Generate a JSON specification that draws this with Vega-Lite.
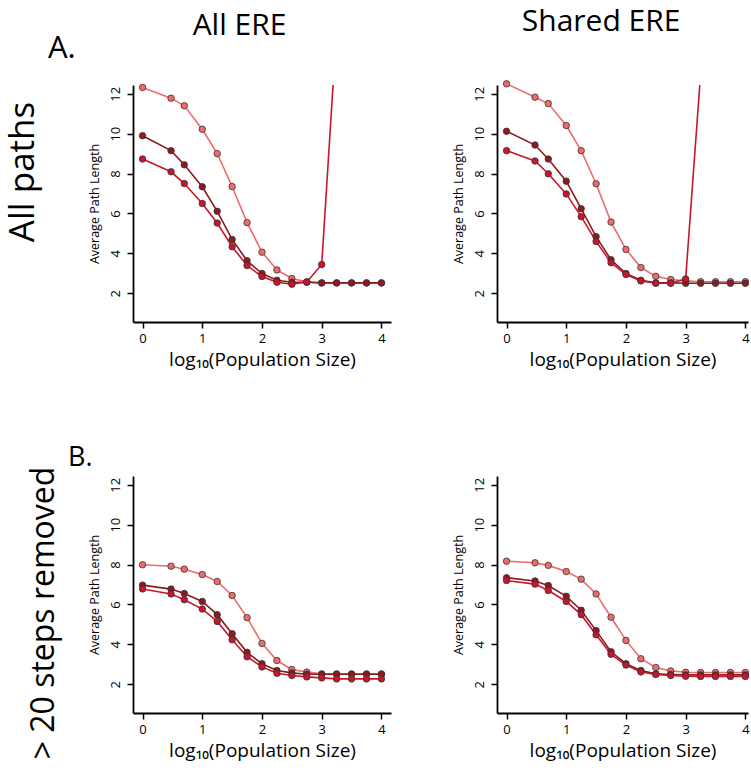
{
  "$schema": "https://vega.github.io/schema/vega-lite/v6.json",
  "padding": {"left": 6, "top": 6, "right": 0, "bottom": 0},
  "background": "white",
  "config": {
    "view": {"stroke": null},
    "font": "Open Sans",
    "axis": {"grid": false, "domainColor": "#000", "domainWidth": 1.8, "tickColor": "#000", "tickWidth": 1.5, "tickSize": 6, "labelFont": "Open Sans", "labelFontSize": 13, "labelColor": "#000", "titleFont": "Open Sans", "titleFontWeight": "normal", "titleColor": "#000", "labelFlush": false, "labelOverlap": false},
    "title": {"font": "Open Sans", "fontWeight": "normal", "color": "#000"}
  },
  "datasets": {
    "d": [
      {"p":"TL","s":"light","x":0,"y":12.32},{"p":"TL","s":"light","x":0.477,"y":11.78},{"p":"TL","s":"light","x":0.699,"y":11.40},{"p":"TL","s":"light","x":1,"y":10.22},{"p":"TL","s":"light","x":1.25,"y":9.0},{"p":"TL","s":"light","x":1.5,"y":7.35},{"p":"TL","s":"light","x":1.75,"y":5.54},{"p":"TL","s":"light","x":2,"y":4.06},{"p":"TL","s":"light","x":2.25,"y":3.17},{"p":"TL","s":"light","x":2.5,"y":2.74},{"p":"TL","s":"light","x":2.75,"y":2.57},{"p":"TL","s":"light","x":3,"y":2.52},{"p":"TL","s":"light","x":3.25,"y":2.52},{"p":"TL","s":"light","x":3.5,"y":2.52},{"p":"TL","s":"light","x":3.75,"y":2.52},{"p":"TL","s":"light","x":4,"y":2.52},
      {"p":"TL","s":"dark","x":0,"y":9.90},{"p":"TL","s":"dark","x":0.477,"y":9.15},{"p":"TL","s":"dark","x":0.699,"y":8.44},{"p":"TL","s":"dark","x":1,"y":7.34},{"p":"TL","s":"dark","x":1.25,"y":6.11},{"p":"TL","s":"dark","x":1.5,"y":4.70},{"p":"TL","s":"dark","x":1.75,"y":3.63},{"p":"TL","s":"dark","x":2,"y":2.99},{"p":"TL","s":"dark","x":2.25,"y":2.65},{"p":"TL","s":"dark","x":2.5,"y":2.55},{"p":"TL","s":"dark","x":2.75,"y":2.55},{"p":"TL","s":"dark","x":3,"y":2.52},{"p":"TL","s":"dark","x":3.25,"y":2.52},{"p":"TL","s":"dark","x":3.5,"y":2.52},{"p":"TL","s":"dark","x":3.75,"y":2.52},{"p":"TL","s":"dark","x":4,"y":2.52},
      {"p":"TL","s":"medium","x":0,"y":8.73},{"p":"TL","s":"medium","x":0.477,"y":8.09},{"p":"TL","s":"medium","x":0.699,"y":7.50},{"p":"TL","s":"medium","x":1,"y":6.50},{"p":"TL","s":"medium","x":1.25,"y":5.52},{"p":"TL","s":"medium","x":1.5,"y":4.33},{"p":"TL","s":"medium","x":1.75,"y":3.39},{"p":"TL","s":"medium","x":2,"y":2.84},{"p":"TL","s":"medium","x":2.25,"y":2.55},{"p":"TL","s":"medium","x":2.5,"y":2.45},{"p":"TL","s":"medium","x":2.75,"y":2.57},{"p":"TL","s":"medium","x":3,"y":3.44},{"p":"TL","s":"medium","x":3.25,"y":15.3},
      {"p":"TR","s":"light","x":0,"y":12.50},{"p":"TR","s":"light","x":0.477,"y":11.83},{"p":"TR","s":"light","x":0.699,"y":11.51},{"p":"TR","s":"light","x":1,"y":10.41},{"p":"TR","s":"light","x":1.25,"y":9.15},{"p":"TR","s":"light","x":1.5,"y":7.49},{"p":"TR","s":"light","x":1.75,"y":5.57},{"p":"TR","s":"light","x":2,"y":4.20},{"p":"TR","s":"light","x":2.25,"y":3.29},{"p":"TR","s":"light","x":2.5,"y":2.85},{"p":"TR","s":"light","x":2.75,"y":2.69},{"p":"TR","s":"light","x":3,"y":2.62},{"p":"TR","s":"light","x":3.25,"y":2.58},{"p":"TR","s":"light","x":3.5,"y":2.58},{"p":"TR","s":"light","x":3.75,"y":2.58},{"p":"TR","s":"light","x":4,"y":2.58},
      {"p":"TR","s":"dark","x":0,"y":10.12},{"p":"TR","s":"dark","x":0.477,"y":9.43},{"p":"TR","s":"dark","x":0.699,"y":8.73},{"p":"TR","s":"dark","x":1,"y":7.62},{"p":"TR","s":"dark","x":1.25,"y":6.24},{"p":"TR","s":"dark","x":1.5,"y":4.84},{"p":"TR","s":"dark","x":1.75,"y":3.68},{"p":"TR","s":"dark","x":2,"y":2.99},{"p":"TR","s":"dark","x":2.25,"y":2.65},{"p":"TR","s":"dark","x":2.5,"y":2.52},{"p":"TR","s":"dark","x":2.75,"y":2.52},{"p":"TR","s":"dark","x":3,"y":2.50},{"p":"TR","s":"dark","x":3.25,"y":2.50},{"p":"TR","s":"dark","x":3.5,"y":2.50},{"p":"TR","s":"dark","x":3.75,"y":2.50},{"p":"TR","s":"dark","x":4,"y":2.50},
      {"p":"TR","s":"medium","x":0,"y":9.15},{"p":"TR","s":"medium","x":0.477,"y":8.63},{"p":"TR","s":"medium","x":0.699,"y":7.99},{"p":"TR","s":"medium","x":1,"y":6.98},{"p":"TR","s":"medium","x":1.25,"y":5.84},{"p":"TR","s":"medium","x":1.5,"y":4.60},{"p":"TR","s":"medium","x":1.75,"y":3.53},{"p":"TR","s":"medium","x":2,"y":2.94},{"p":"TR","s":"medium","x":2.25,"y":2.62},{"p":"TR","s":"medium","x":2.5,"y":2.50},{"p":"TR","s":"medium","x":2.75,"y":2.50},{"p":"TR","s":"medium","x":3,"y":2.72},{"p":"TR","s":"medium","x":3.25,"y":13.0},
      {"p":"BL","s":"light","x":0,"y":7.99},{"p":"BL","s":"light","x":0.477,"y":7.92},{"p":"BL","s":"light","x":0.699,"y":7.77},{"p":"BL","s":"light","x":1,"y":7.50},{"p":"BL","s":"light","x":1.25,"y":7.15},{"p":"BL","s":"light","x":1.5,"y":6.45},{"p":"BL","s":"light","x":1.75,"y":5.34},{"p":"BL","s":"light","x":2,"y":4.05},{"p":"BL","s":"light","x":2.25,"y":3.19},{"p":"BL","s":"light","x":2.5,"y":2.74},{"p":"BL","s":"light","x":2.75,"y":2.61},{"p":"BL","s":"light","x":3,"y":2.52},{"p":"BL","s":"light","x":3.25,"y":2.52},{"p":"BL","s":"light","x":3.5,"y":2.52},{"p":"BL","s":"light","x":3.75,"y":2.52},{"p":"BL","s":"light","x":4,"y":2.52},
      {"p":"BL","s":"dark","x":0,"y":6.97},{"p":"BL","s":"dark","x":0.477,"y":6.77},{"p":"BL","s":"dark","x":0.699,"y":6.55},{"p":"BL","s":"dark","x":1,"y":6.15},{"p":"BL","s":"dark","x":1.25,"y":5.49},{"p":"BL","s":"dark","x":1.5,"y":4.53},{"p":"BL","s":"dark","x":1.75,"y":3.60},{"p":"BL","s":"dark","x":2,"y":3.03},{"p":"BL","s":"dark","x":2.25,"y":2.69},{"p":"BL","s":"dark","x":2.5,"y":2.57},{"p":"BL","s":"dark","x":2.75,"y":2.50},{"p":"BL","s":"dark","x":3,"y":2.50},{"p":"BL","s":"dark","x":3.25,"y":2.50},{"p":"BL","s":"dark","x":3.5,"y":2.50},{"p":"BL","s":"dark","x":3.75,"y":2.50},{"p":"BL","s":"dark","x":4,"y":2.50},
      {"p":"BL","s":"medium","x":0,"y":6.78},{"p":"BL","s":"medium","x":0.477,"y":6.53},{"p":"BL","s":"medium","x":0.699,"y":6.24},{"p":"BL","s":"medium","x":1,"y":5.77},{"p":"BL","s":"medium","x":1.25,"y":5.15},{"p":"BL","s":"medium","x":1.5,"y":4.23},{"p":"BL","s":"medium","x":1.75,"y":3.38},{"p":"BL","s":"medium","x":2,"y":2.87},{"p":"BL","s":"medium","x":2.25,"y":2.55},{"p":"BL","s":"medium","x":2.5,"y":2.44},{"p":"BL","s":"medium","x":2.75,"y":2.37},{"p":"BL","s":"medium","x":3,"y":2.32},{"p":"BL","s":"medium","x":3.25,"y":2.27},{"p":"BL","s":"medium","x":3.5,"y":2.27},{"p":"BL","s":"medium","x":3.75,"y":2.27},{"p":"BL","s":"medium","x":4,"y":2.27},
      {"p":"BR","s":"light","x":0,"y":8.17},{"p":"BR","s":"light","x":0.477,"y":8.09},{"p":"BR","s":"light","x":0.699,"y":7.96},{"p":"BR","s":"light","x":1,"y":7.65},{"p":"BR","s":"light","x":1.25,"y":7.27},{"p":"BR","s":"light","x":1.5,"y":6.53},{"p":"BR","s":"light","x":1.75,"y":5.36},{"p":"BR","s":"light","x":2,"y":4.20},{"p":"BR","s":"light","x":2.25,"y":3.28},{"p":"BR","s":"light","x":2.5,"y":2.84},{"p":"BR","s":"light","x":2.75,"y":2.67},{"p":"BR","s":"light","x":3,"y":2.60},{"p":"BR","s":"light","x":3.25,"y":2.59},{"p":"BR","s":"light","x":3.5,"y":2.59},{"p":"BR","s":"light","x":3.75,"y":2.59},{"p":"BR","s":"light","x":4,"y":2.59},
      {"p":"BR","s":"dark","x":0,"y":7.34},{"p":"BR","s":"dark","x":0.477,"y":7.18},{"p":"BR","s":"dark","x":0.699,"y":6.95},{"p":"BR","s":"dark","x":1,"y":6.41},{"p":"BR","s":"dark","x":1.25,"y":5.71},{"p":"BR","s":"dark","x":1.5,"y":4.69},{"p":"BR","s":"dark","x":1.75,"y":3.63},{"p":"BR","s":"dark","x":2,"y":3.03},{"p":"BR","s":"dark","x":2.25,"y":2.69},{"p":"BR","s":"dark","x":2.5,"y":2.52},{"p":"BR","s":"dark","x":2.75,"y":2.49},{"p":"BR","s":"dark","x":3,"y":2.47},{"p":"BR","s":"dark","x":3.25,"y":2.47},{"p":"BR","s":"dark","x":3.5,"y":2.47},{"p":"BR","s":"dark","x":3.75,"y":2.47},{"p":"BR","s":"dark","x":4,"y":2.47},
      {"p":"BR","s":"medium","x":0,"y":7.20},{"p":"BR","s":"medium","x":0.477,"y":7.02},{"p":"BR","s":"medium","x":0.699,"y":6.70},{"p":"BR","s":"medium","x":1,"y":6.15},{"p":"BR","s":"medium","x":1.25,"y":5.49},{"p":"BR","s":"medium","x":1.5,"y":4.48},{"p":"BR","s":"medium","x":1.75,"y":3.50},{"p":"BR","s":"medium","x":2,"y":2.96},{"p":"BR","s":"medium","x":2.25,"y":2.62},{"p":"BR","s":"medium","x":2.5,"y":2.49},{"p":"BR","s":"medium","x":2.75,"y":2.44},{"p":"BR","s":"medium","x":3,"y":2.40},{"p":"BR","s":"medium","x":3.25,"y":2.39},{"p":"BR","s":"medium","x":3.5,"y":2.39},{"p":"BR","s":"medium","x":3.75,"y":2.39},{"p":"BR","s":"medium","x":4,"y":2.39}
    ]
  },
  "data": {"name": "d"},
  "spacing": 75,
  "vconcat": [
    {
      "title": {"text": "All paths", "orient": "left", "anchor": "middle", "fontSize": 35, "offset": 7, "dx": 16},
      "vconcat": [
        {
          "title": {"text": "A.", "anchor": "start", "fontSize": 31, "dx": -40, "dy": 62},
          "spacing": 61,
          "hconcat": [
            {
              "title": {"text": "All ERE", "fontSize": 30, "offset": 42, "frame": "bounds"},
              "width": 258, "height": 237,
              "transform": [{"filter": "datum.p === 'TL'"}],
              "encoding": {
                "x": {"field": "x", "type": "quantitative", "scale": {"domain": [-0.16, 4.16], "nice": false, "zero": false}, "axis": {"values": [0, 1, 2, 3, 4], "title": "log₁₀(Population Size)", "titleFontSize": 19, "titlePadding": 5, "labelPadding": 4}},
                "y": {"field": "y", "type": "quantitative", "scale": {"domain": [0.56, 12.44], "nice": false, "zero": false}, "axis": {"values": [2, 4, 6, 8, 10, 12], "labelAngle": 270, "labelAlign": "center", "labelBaseline": "bottom", "labelPadding": 5, "title": "Average Path Length", "titleFontSize": 12.5, "titlePadding": 8}},
                "color": {"field": "s", "type": "nominal", "scale": {"domain": ["light", "dark", "medium"], "range": ["#EE6B6B", "#8C1A1E", "#C8162E"]}, "legend": null}
              },
              "layer": [
                {"mark": {"type": "line", "clip": true, "strokeWidth": 1.6}},
                {"transform": [{"filter": "datum.y < 12.8"}], "mark": {"type": "point", "filled": true, "size": 42, "stroke": "#333", "strokeWidth": 0.8, "opacity": 1}}
              ]
            },
            {
              "title": {"text": "Shared ERE", "fontSize": 30, "offset": 42, "frame": "bounds"},
              "width": 251, "height": 237,
              "transform": [{"filter": "datum.p === 'TR'"}],
              "encoding": {
                "x": {"field": "x", "type": "quantitative", "scale": {"domain": [-0.16, 4.044], "nice": false, "zero": false}, "axis": {"values": [0, 1, 2, 3, 4], "title": "log₁₀(Population Size)", "titleFontSize": 19, "titlePadding": 5, "labelPadding": 4}},
                "y": {"field": "y", "type": "quantitative", "scale": {"domain": [0.56, 12.44], "nice": false, "zero": false}, "axis": {"values": [2, 4, 6, 8, 10, 12], "labelAngle": 270, "labelAlign": "center", "labelBaseline": "bottom", "labelPadding": 5, "title": "Average Path Length", "titleFontSize": 12.5, "titlePadding": 8}},
                "color": {"field": "s", "type": "nominal", "scale": {"domain": ["light", "dark", "medium"], "range": ["#EE6B6B", "#8C1A1E", "#C8162E"]}, "legend": null}
              },
              "layer": [
                {"mark": {"type": "line", "clip": true, "strokeWidth": 1.6}},
                {"transform": [{"filter": "datum.y < 12.8"}], "mark": {"type": "point", "filled": true, "size": 42, "stroke": "#333", "strokeWidth": 0.8, "opacity": 1}}
              ]
            }
          ]
        }
      ]
    },
    {
      "title": {"text": ">  20 steps removed", "orient": "left", "anchor": "middle", "fontSize": 32, "offset": 7, "dx": -11},
      "vconcat": [
        {
          "title": {"text": "B.", "anchor": "start", "fontSize": 27, "dx": -20, "dy": 0},
          "spacing": 61,
          "hconcat": [
            {
              "width": 258, "height": 237,
              "transform": [{"filter": "datum.p === 'BL'"}],
              "encoding": {
                "x": {"field": "x", "type": "quantitative", "scale": {"domain": [-0.16, 4.16], "nice": false, "zero": false}, "axis": {"values": [0, 1, 2, 3, 4], "title": "log₁₀(Population Size)", "titleFontSize": 19, "titlePadding": 5, "labelPadding": 4}},
                "y": {"field": "y", "type": "quantitative", "scale": {"domain": [0.56, 12.44], "nice": false, "zero": false}, "axis": {"values": [2, 4, 6, 8, 10, 12], "labelAngle": 270, "labelAlign": "center", "labelBaseline": "bottom", "labelPadding": 5, "title": "Average Path Length", "titleFontSize": 12.5, "titlePadding": 8}},
                "color": {"field": "s", "type": "nominal", "scale": {"domain": ["light", "dark", "medium"], "range": ["#EE6B6B", "#8C1A1E", "#C8162E"]}, "legend": null}
              },
              "layer": [
                {"mark": {"type": "line", "clip": true, "strokeWidth": 1.6}},
                {"transform": [{"filter": "datum.y < 12.8"}], "mark": {"type": "point", "filled": true, "size": 42, "stroke": "#333", "strokeWidth": 0.8, "opacity": 1}}
              ]
            },
            {
              "width": 251, "height": 237,
              "transform": [{"filter": "datum.p === 'BR'"}],
              "encoding": {
                "x": {"field": "x", "type": "quantitative", "scale": {"domain": [-0.16, 4.044], "nice": false, "zero": false}, "axis": {"values": [0, 1, 2, 3, 4], "title": "log₁₀(Population Size)", "titleFontSize": 19, "titlePadding": 5, "labelPadding": 4}},
                "y": {"field": "y", "type": "quantitative", "scale": {"domain": [0.56, 12.44], "nice": false, "zero": false}, "axis": {"values": [2, 4, 6, 8, 10, 12], "labelAngle": 270, "labelAlign": "center", "labelBaseline": "bottom", "labelPadding": 5, "title": "Average Path Length", "titleFontSize": 12.5, "titlePadding": 8}},
                "color": {"field": "s", "type": "nominal", "scale": {"domain": ["light", "dark", "medium"], "range": ["#EE6B6B", "#8C1A1E", "#C8162E"]}, "legend": null}
              },
              "layer": [
                {"mark": {"type": "line", "clip": true, "strokeWidth": 1.6}},
                {"transform": [{"filter": "datum.y < 12.8"}], "mark": {"type": "point", "filled": true, "size": 42, "stroke": "#333", "strokeWidth": 0.8, "opacity": 1}}
              ]
            }
          ]
        }
      ]
    }
  ]
}
